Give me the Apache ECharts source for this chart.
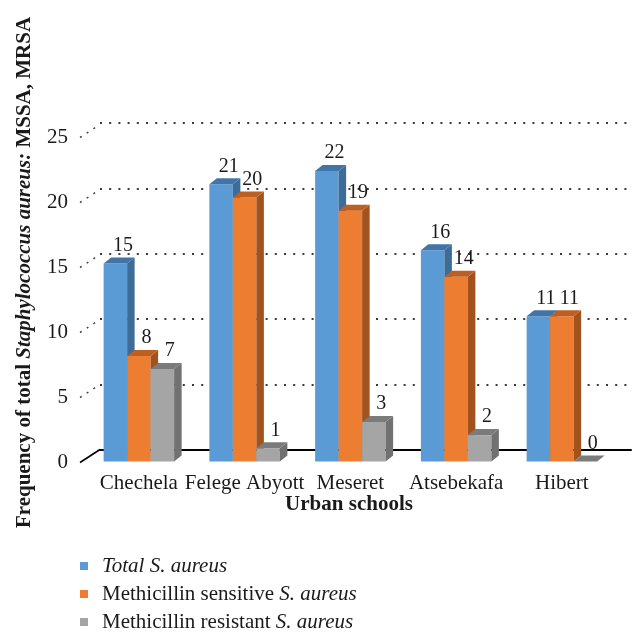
<!DOCTYPE html>
<html>
<head>
<meta charset="utf-8">
<script src="https://cdn.jsdelivr.net/npm/echarts/dist/echarts.min.js"></script>
<style>html,body{margin:0;padding:0;background:#fff}#c{width:641px;height:640px}</style>
</head>
<body>
<div id="c"></div>
<script>
// ---- data ----
const categories = ['Chechela', 'Felege Abyott', 'Meseret', 'Atsebekafa', 'Hibert'];
const totalSA = [15, 21, 22, 16, 11];
const mssa = [8, 20, 19, 14, 11];
const mrsa = [7, 1, 3, 2, 0];
const yTicks = [0, 5, 10, 15, 20, 25];
const seriesNames = ['Total S. aureus', 'Methicillin sensitive S. aureus', 'Methicillin resistant S. aureus'];

// ---- styles ----
const FONT = 'Liberation Serif';
const faces = [
  { front: '#5B9BD5', side: '#3D6C99', top: '#4274A6' },
  { front: '#ED7D31', side: '#A2521D', top: '#BD5F21' },
  { front: '#A5A5A5', side: '#717171', top: '#7B7B7B' }
];
const DX = 7.5, DY = -6;

function bar3d(sIdx) {
  return function (params, api) {
    const idx = api.value(0), v = api.value(1);
    const base = api.coord([idx, 0]);
    const top = api.coord([idx, v]);
    const band = api.size([1, 0])[0];
    const w = band * 0.2222;
    const x0 = base[0] - 1.5 * w + sIdx * w, x1 = x0 + w;
    const yb = base[1], yt = top[1];
    const f = faces[sIdx];
    return {
      type: 'group',
      children: [
        { type: 'rect', shape: { x: x0, y: yt, width: w, height: yb - yt }, style: { fill: f.front } },
        { type: 'polygon', shape: { points: [[x1, yt], [x1 + DX, yt + DY], [x1 + DX, yb + DY], [x1, yb]] }, style: { fill: f.side } },
        { type: 'polygon', shape: { points: [[x0, yt], [x0 + DX, yt + DY], [x1 + DX, yt + DY], [x1, yt]] }, style: { fill: f.top } },
        { type: 'text', x: x0 + w / 2 + DX, y: yt + DY - 2,
          style: { text: String(v), fontSize: 20, fontFamily: FONT, fill: '#1a1a1a', align: 'center', verticalAlign: 'bottom' } }
      ]
    };
  };
}

const valueSets = [totalSA, mssa, mrsa];
const barSeries = valueSets.map((vals, s) => ({
  type: 'custom',
  name: seriesNames[s],
  xAxisIndex: 2, yAxisIndex: 2,
  itemStyle: { color: faces[s].front },
  renderItem: bar3d(s),
  encode: { x: 0, y: 1 },
  data: vals.map((v, i) => [i, v]),
  z: 3 + s
}));

const connSeries = {
  type: 'custom',
  xAxisIndex: 1, yAxisIndex: 1,
  silent: true,
  renderItem: function (params, api) {
    const v = api.value(1);
    const p = api.coord([0, v]);
    return {
      type: 'line',
      shape: { x1: p[0], y1: p[1], x2: p[0] + 20, y2: p[1] - 13 },
      style: v === 0 ? { stroke: '#000', lineWidth: 1.6 } : { stroke: '#444', lineWidth: 1.5, lineDash: [2, 6] }
    };
  },
  encode: { x: 0, y: 1 },
  data: yTicks.map(t => [0, t]),
  z: 1
};

const chart = echarts.init(document.getElementById('c'), null, { renderer: 'canvas' });
chart.setOption({
  animation: false,
  backgroundColor: '#fff',
  grid: [
    { left: 100, right: 10, top: 123, bottom: 190 },      // back plane
    { left: 80, right: 20, top: 137.5, bottom: 177.5 },   // label plane
    { left: 86, right: 26.25, top: 131.5, bottom: 178.5 } // bars (front)
  ],
  xAxis: [
    { gridIndex: 0, type: 'category', data: categories, axisLabel: { show: false }, axisTick: { show: false },
      axisLine: { show: true, lineStyle: { color: '#000', width: 2 } } },
    { gridIndex: 1, type: 'value', min: 0, max: 1, show: false },
    { gridIndex: 2, type: 'category', data: categories, axisLine: { show: false }, axisTick: { show: false },
      axisLabel: { margin: 11, fontSize: 21, fontFamily: FONT, color: '#1a1a1a', interval: 0 } }
  ],
  yAxis: [
    { gridIndex: 0, type: 'value', min: 0, max: 25, interval: 5, axisLabel: { show: false }, axisLine: { show: false }, axisTick: { show: false },
      splitLine: { show: true, lineStyle: { color: '#3a3a3a', width: 1.8, type: [2, 7.2] } } },
    { gridIndex: 1, type: 'value', min: 0, max: 25, interval: 5, axisLine: { show: false }, axisTick: { show: false }, splitLine: { show: false },
      axisLabel: { margin: 12, fontSize: 21, fontFamily: FONT, color: '#1a1a1a' } },
    { gridIndex: 2, type: 'value', min: 0, max: 25, show: false }
  ],
  legend: {
    orient: 'vertical', left: 80, top: 555.5, padding: 0,
    icon: 'rect', itemWidth: 8, itemHeight: 8, itemGap: 7,
    selectedMode: false,
    data: seriesNames,
    formatter: function (name) {
      if (name === seriesNames[0]) return '{i|Total S. aureus}';
      if (name === seriesNames[1]) return 'Methicillin sensitive {i|S. aureus}';
      return 'Methicillin resistant {i|S. aureus}';
    },
    textStyle: { fontSize: 21, fontFamily: FONT, color: '#1a1a1a', lineHeight: 21, padding: [0, 0, 0, 9],
      rich: { i: { fontStyle: 'italic', fontSize: 21, fontFamily: FONT, color: '#1a1a1a', lineHeight: 21 } } }
  },
  graphic: [
    { type: 'text', x: 25, y: 272.5, rotation: Math.PI / 2,
      style: { text: 'Frequency of total {i|Staphylococcus aureus:} MSSA, MRSA', fontSize: 21, fontWeight: 'bold', fontFamily: FONT,
        fill: '#1a1a1a', align: 'center', verticalAlign: 'middle',
        rich: { i: { fontStyle: 'italic', fontWeight: 'bold', fontSize: 21, fontFamily: FONT, fill: '#1a1a1a' } } } },
    { type: 'text', x: 349, y: 505,
      style: { text: 'Urban schools', fontSize: 21, fontWeight: 'bold', fontFamily: FONT, fill: '#1a1a1a', align: 'center', verticalAlign: 'middle' } }
  ],
  series: [connSeries].concat(barSeries)
});
</script>
</body>
</html>
